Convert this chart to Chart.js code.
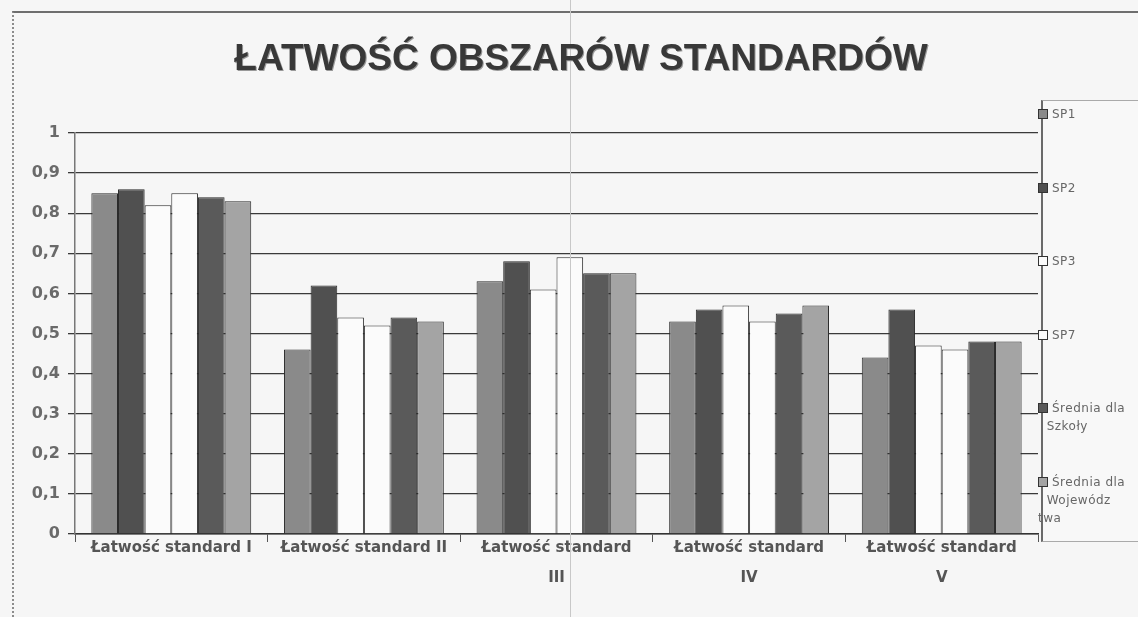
<!DOCTYPE html>
<html lang="pl">
<head>
<meta charset="utf-8">
<script src="https://cdn.jsdelivr.net/npm/chart.js@4.4.1/dist/chart.umd.min.js"></script>
<style>
body{margin:0;background:#f6f6f6;width:1138px;height:617px;overflow:hidden;position:relative}
#frame{position:absolute;left:12px;top:11px;width:1140px;height:620px;border-top:2px solid #6e6e6e;border-left:2px dotted #8c8c8c}
#fold{position:absolute;left:570px;top:0;width:1px;height:617px;background:#c8c8c8}
#wrap{position:absolute;left:0;top:0;width:1138px;height:617px}
#title{position:absolute;left:181px;top:36px;width:800px;text-align:center;white-space:nowrap;font-family:"Liberation Sans",Arial,sans-serif;font-weight:bold;font-size:37px;line-height:44px;color:#383838;text-shadow:1px 1px 0 #999}
#legend{position:absolute;left:1041px;top:100px;width:120px;height:440px;border-left:2px solid #6a6a6a;border-top:1px solid #aaa;border-bottom:1px solid #aaa;background:#f8f8f8}
.item{position:absolute;left:-5px;font-family:"DejaVu Sans",sans-serif;font-size:12px;color:#666;line-height:18px;white-space:pre;letter-spacing:0.5px}
.item i{display:inline-block;width:8px;height:8px;border:1px solid #333;margin-right:4px;vertical-align:-1px}
</style>
</head>
<body>
<div id="frame"></div>
<div id="wrap"><canvas id="chart" width="1138" height="617"></canvas></div>
<div id="fold"></div>
<div id="title"></div>
<div id="legend"></div>
<script>
var chartTitle = 'ŁATWOŚĆ OBSZARÓW STANDARDÓW';
var categories = ['Łatwość standard I', 'Łatwość standard II', ['Łatwość standard', 'III'], ['Łatwość standard', 'IV'], ['Łatwość standard', 'V']];
var seriesNames = ['SP1', 'SP2', 'SP3', 'SP7', 'Średnia dla Szkoły', 'Średnia dla Województwa'];
var legendLines = ['SP1', 'SP2', 'SP3', 'SP7', 'Średnia dla\n  Szkoły', 'Średnia dla\n  Wojewódz\ntwa'];
var sp1 = [0.85, 0.46, 0.63, 0.53, 0.44];
var sp2 = [0.86, 0.62, 0.68, 0.56, 0.56];
var sp3 = [0.82, 0.54, 0.61, 0.57, 0.47];
var sp7 = [0.85, 0.52, 0.69, 0.53, 0.46];
var sredniaSzkoly = [0.84, 0.54, 0.65, 0.55, 0.48];
var sredniaWoj = [0.83, 0.53, 0.65, 0.57, 0.48];
var colors = ['#8a8a8a', '#505050', '#fbfbfb', '#fbfbfb', '#5a5a5a', '#a4a4a4'];

document.getElementById('title').textContent = chartTitle;

var values = [sp1, sp2, sp3, sp7, sredniaSzkoly, sredniaWoj];
var datasets = [];
for (var i = 0; i < values.length; i++) {
  datasets.push({
    label: seriesNames[i],
    data: values[i],
    backgroundColor: colors[i],
    borderColor: '#2a2a2a',
    borderWidth: 1,
    categoryPercentage: 0.83,
    barPercentage: 1
  });
}

// legend from the same arrays
var legend = document.getElementById('legend');
for (var i = 0; i < legendLines.length; i++) {
  var item = document.createElement('div');
  item.className = 'item';
  item.style.top = (4 + i * 73.5) + 'px';
  item.innerHTML = '<i style="background:' + colors[i] + '"></i>';
  item.appendChild(document.createTextNode(legendLines[i]));
  legend.appendChild(item);
}

var ctx = document.getElementById('chart').getContext('2d');
var chart = new Chart(ctx, {
  type: 'bar',
  data: { labels: categories, datasets: datasets },
  options: {
    responsive: false,
    animation: false,
    layout: { padding: { left: 0, right: 100, top: 133, bottom: 0 } },
    plugins: {
      legend: { display: false },
      tooltip: { enabled: false },
      title: { display: false }
    },
    scales: {
      x: {
        grid: { display: true, drawOnChartArea: false, drawTicks: true, tickLength: 8, color: '#555', offset: true },
        border: { display: true, color: '#333', width: 1.5 },
        ticks: {
          color: '#555',
          padding: -9,
          maxRotation: 0,
          autoSkip: false,
          font: { family: 'DejaVu Sans', size: 15, weight: 'bold', lineHeight: 2 }
        },
        afterFit: function (scale) { scale.height = 83; }
      },
      y: {
        min: 0,
        max: 1,
        ticks: {
          stepSize: 0.1,
          color: '#6a6a6a',
          padding: 8,
          font: { family: 'DejaVu Sans', size: 16, weight: 'bold' },
          callback: function (v) { return String(Math.round(v * 10) / 10).replace('.', ','); }
        },
        grid: { color: '#3a3a3a', lineWidth: 1.3, tickLength: 7 },
        border: { display: true, color: '#777', width: 1.5 },
        afterFit: function (scale) { scale.width = 75; }
      }
    }
  }
});
</script>
</body>
</html>
